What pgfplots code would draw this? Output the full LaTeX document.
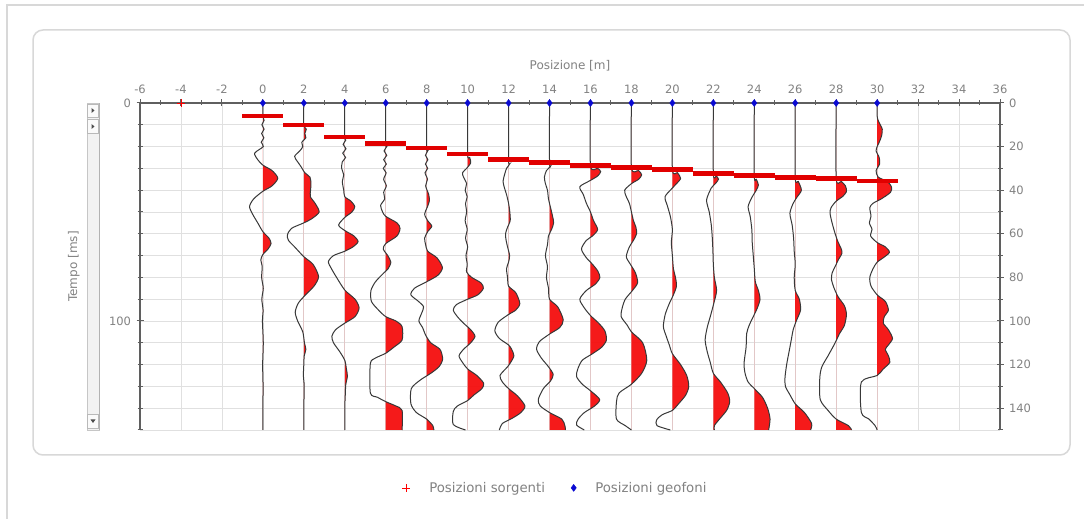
\documentclass[border=0pt]{standalone}
\usepackage{pgfplots}
\usepackage{pgfplotstable}
\pgfplotsset{compat=1.18}
\usepackage{fontspec}
\setmainfont{DejaVu Sans}

\definecolor{axisgray}{RGB}{95,95,95}
\definecolor{labelgray}{RGB}{130,130,130}
\definecolor{gridgray}{RGB}{224,224,224}
\definecolor{wigred}{RGB}{245,12,12}
\definecolor{pickred}{RGB}{225,0,0}
\definecolor{framegray}{RGB}{216,216,216}
\definecolor{geoblue}{RGB}{10,10,210}

% ---------- seismic traces: time [ms], amplitude [m of offset] ----------
\pgfplotstableread{
t a
0 0
6 0
8 0.06
10 -0.05
12 0.06
14 -0.06
16 0.05
18 -0.08
20 0.02
23 -0.4
26 -0.25
28.5 0
31 0.45
34.5 0.73
38 0.45
40.5 0
44 -0.45
47.5 -0.65
51 -0.5
55 -0.25
59 0
62 0.3
64.5 0.4
67 0.25
69.5 0
72 -0.1
75 -0.03
80 -0.06
85 0.02
90 -0.05
95 0.01
100 -0.02
110 0.02
120 -0.01
130 0.01
140 0
150 0
}\trA
\pgfplotstableread{
t a
0 0
10 0
12 0.12
14 0.05
16 0.1
18 -0.1
20 -0.05
22 -0.2
24.5 -0.45
27 -0.3
29 -0.15
32 0.05
34 0.3
37 0.35
40 0.33
43 0.32
46 0.55
50 0.75
53 0.4
55 0
57.5 -0.6
60.5 -0.8
63 -0.75
66 -0.45
70.5 0
74 0.45
79.6 0.72
84 0.5
88.8 0
92 -0.28
96 -0.42
100 -0.3
105 -0.05
110 0.03
113 0.1
116 0.02
120 0
125 -0.02
130 0.02
140 0
150 0
}\trB
\pgfplotstableread{
t a
0 0
15.5 0
17 0.05
19 -0.08
21 0.06
23 -0.1
25 0.04
27 -0.12
30 -0.15
33 -0.05
36 -0.12
40 -0.05
43 0
45 0.3
47.6 0.49
50 0.35
52.5 0
56 -0.3
58.5 0
61 0.45
63.6 0.65
66 0.4
68 0
70 -0.55
72.8 -0.8
76 -0.65
80 -0.4
85.8 0
90 0.5
94 0.7
98 0.5
101 0
104 -0.45
107 -0.63
110 -0.55
114 -0.25
118 0
122 0.08
125.5 0.13
129 0.05
135 0.02
140 0
150 0.01
}\trC
\pgfplotstableread{
t a
0 0
18.6 0
20 0.05
22 -0.08
24 0.05
26 -0.1
28 0.03
30 -0.12
32 0.02
35 -0.1
38 0.03
41 -0.1
44 -0.05
47 -0.25
50 -0.15
52 0
55 0.55
57.5 0.7
61 0.55
64.5 0
67 -0.12
70 0.1
73 0.25
76 0.12
78 -0.1
82 -0.5
86 -0.72
91 -0.7
95 -0.35
98 0
100 0.5
102.6 0.8
108.7 0.8
112 0.4
114.8 0
117 -0.5
119.5 -0.75
133 -0.75
135 -0.4
137 0
139 0.5
141 0.8
150 0.8
}\trD
\pgfplotstableread{
t a
0 0
20.6 0
22 0.05
24 -0.06
26 0.06
28 -0.06
30 0.05
32 -0.08
35 0.04
38 -0.05
42 0.1
45 0.13
48 0.02
51 -0.1
54 0.05
56.5 0.25
59 0.05
62 -0.1
65 -0.05
68 0.05
71 0.5
75.5 0.77
79 0.55
82 0
85 -0.6
88 -0.77
91 -0.4
93.5 -0.15
96.5 -0.25
100 -0.38
103 -0.2
106.5 -0.05
110 0.2
113 0.65
117.5 0.78
121 0.6
124 0.2
127 -0.3
131 -0.75
138 -0.77
142 -0.5
145 0
148 0.3
150 0.35
}\trE
\pgfplotstableread{
t a
0 0
23.5 0
25 0.1
27.5 0.15
30 -0.05
32 -0.25
34 -0.2
37 -0.05
40 -0.12
43 -0.02
46 -0.1
50 -0.05
54 -0.12
58 -0.02
62 -0.1
66 0
70 -0.08
74 -0.02
77.5 -0.05
80 0.2
82.5 0.65
85 0.77
88 0.5
90 0
92.5 -0.55
95 -0.7
98 -0.5
101 -0.2
104 0.15
107 0.36
110 0.15
113 -0.2
116 -0.42
119 -0.25
122 0
125 0.45
128.5 0.78
131 0.7
134 0.3
136.5 0
139 -0.5
141.5 -0.7
147.5 -0.7
150 -0.1
}\trF
\pgfplotstableread{
t a
0 0
26 0
28 0.05
30 -0.1
33 -0.2
36 -0.27
39 -0.2
42 -0.1
46 0
50 0.06
54 0.08
57 -0.05
60 -0.15
63 -0.12
66 -0.05
70 0.05
73 0
76 -0.1
80 -0.05
84 0
87 0.35
92 0.55
95 0.35
97 0
100.5 -0.5
104.5 -0.67
108 -0.45
111 0
113 0.15
116 0.26
119 0.1
121 -0.05
125 -0.42
128 -0.3
131 0
134.5 0.45
139 0.8
142 0.6
144.5 0.2
147 -0.3
150 -0.45
}\trG
\pgfplotstableread{
t a
0 0
27.2 0
29 0.05
31 -0.15
34 -0.25
37 -0.2
40 -0.1
44 -0.05
48 0.05
52 0.15
55 0.2
58 0.1
61 -0.05
65 -0.1
70 -0.2
75 -0.1
80 -0.15
85 -0.05
90 0
93.5 0.4
99.5 0.67
103 0.5
106 0
109.5 -0.5
113 -0.63
117 -0.4
121 -0.05
124.5 0.18
127.5 0.05
131 -0.3
136 -0.55
139 -0.45
142 0
145 0.6
148 0.75
150 0.78
}\trH
\pgfplotstableread{
t a
0 0
28.7 0
30 0.35
31.5 0.5
33.5 0.35
35.5 0
38.4 -0.52
42 -0.35
46 -0.2
50 0
54 0.15
58 0.35
61 0.1
63 -0.2
67 -0.44
71 -0.2
74 0.1
77 0.35
80 0.46
83 0.25
86 -0.2
90 -0.52
94 -0.3
97.5 0
101 0.4
104.5 0.7
108.7 0.78
112 0.55
115 0.1
118 -0.4
122 -0.62
125.5 -0.68
129 -0.4
132 0
136 0.45
139 0.2
142 -0.3
145 -0.6
147.7 -0.68
150 -0.3
}\trI
\pgfplotstableread{
t a
0 0
29.6 0
31 0.35
33 0.5
35 0.35
37 0
40 -0.33
43 -0.25
46 -0.1
50 0
54 0.1
57 0.22
60 0.25
63 0.1
66 -0.1
70.5 -0.25
74 -0.05
78 0.2
82.5 0.3
86 0.05
90 -0.3
94 -0.45
98 -0.5
102 -0.2
105 0
110 0.55
118 0.75
124 0.5
129 0
133 -0.6
137 -0.73
145 -0.73
148 -0.3
150 0
}\trJ
\pgfplotstableread{
t a
0 0
30.4 0
32 0.25
34.6 0.4
37 0.2
39 0
43 -0.36
47 -0.25
52 -0.1
58 0
64 -0.05
70 0
76 0.05
80 0.15
84 0.2
88 0.05
92 -0.15
97 -0.35
102.6 -0.44
107 -0.3
111 -0.15
115 0
120 0.4
125 0.7
130 0.8
134 0.65
138 0.3
141 0
143 -0.5
145.4 -0.77
148 -0.75
150 -0.1
}\trK
\pgfplotstableread{
t a
0 0
32.4 0
33.5 0.15
35 0.25
37 0.1
39 -0.1
44.5 -0.33
50 -0.2
56 -0.1
62 -0.05
68 -0.02
74 0
80 0.05
86 0.16
92 0.02
98 -0.15
103 -0.3
108.7 -0.4
114 -0.3
119 -0.15
124 0
128 0.35
133 0.7
137 0.8
141 0.65
145 0.3
148 0.05
150 0.05
}\trL
\pgfplotstableread{
t a
0 0
33.3 0
35 0.1
37.6 0.2
40 0.1
43 -0.1
47.5 -0.3
52 -0.2
58 -0.12
64 -0.1
70 -0.05
76 0
82 0.05
86 0.2
90 0.28
94 0.15
98 -0.05
102 -0.25
105.7 -0.37
112 -0.4
119.4 -0.5
124 -0.45
128 -0.3
131 0
135 0.4
140 0.65
145 0.77
150 0.7
}\trM
\pgfplotstableread{
t a
0 0
34.2 0
36 0.15
40 0.3
43 0.1
46 -0.1
50.6 -0.26
56 -0.15
62 -0.08
68 -0.05
74 0
80 -0.05
86 0
90 0.2
95 0.26
100 0.05
104 -0.1
109 -0.2
114 -0.3
120 -0.42
126 -0.5
130 -0.48
134 -0.25
138 0
142 0.45
147 0.8
150 0.75
}\trN
\pgfplotstableread{
t a
0 0
34.6 0
36 0.25
38 0.45
40.7 0.5
43 0.3
45 0
48 -0.25
50.6 -0.3
55 -0.2
60 -0.05
64 0.1
67 0.25
69 0.28
72 0.1
75 -0.05
78 -0.2
81 -0.23
85 -0.1
89 0.1
93 0.4
97 0.5
102 0.4
106 0.15
110 -0.05
116 -0.4
121 -0.7
126 -0.8
136 -0.78
141 -0.4
145 0
148 0.6
150 0.75
}\trO
\pgfplotstableread{
t a
0 0
6 0
8 0.05
10 0.15
12 0.25
15 0.22
18 0.1
20 0
22 -0.05
25 0.1
28 0.12
31 -0.05
34 0.05
36 0.5
38.5 0.7
41 0.65
44 0.2
46 -0.2
48 -0.36
52 -0.3
55 -0.38
58 -0.25
61 -0.32
64 0
66 0.4
68.5 0.6
71 0.3
73 0
76 -0.2
80 -0.36
84 -0.3
88 0
91 0.4
95 0.55
98 0.35
101 0.3
104 0.55
108 0.75
111 0.55
113 0.4
116 0.55
119 0.62
122 0.3
125 0
128 -0.77
142 -0.77
145 -0.4
148 -0.1
150 0
}\trP

% first-break picks: one segment per geophone
\pgfplotstableread{
x t
-1 6
1 6
nan nan
1 10
3 10
nan nan
3 15.5
5 15.5
nan nan
5 18.6
7 18.6
nan nan
7 20.6
9 20.6
nan nan
9 23.5
11 23.5
nan nan
11 26
13 26
nan nan
13 27.2
15 27.2
nan nan
15 28.7
17 28.7
nan nan
17 29.6
19 29.6
nan nan
19 30.4
21 30.4
nan nan
21 32.4
23 32.4
nan nan
23 33.3
25 33.3
nan nan
25 34.2
27 34.2
nan nan
27 34.6
29 34.6
nan nan
29 35.8
31 35.8
}\picks

% time grows downwards: it is plotted as -t and labelled as |t|
% wiggle trace with variable-area fill of the positive half
% #1 table, #2 position, #3 position+2
\newcommand{\wiggle}[3]{%
  \begin{scope}
    \clip (axis cs:#2,-152) rectangle (axis cs:#3,2);
    \addplot[draw=none, fill=wigred, fill opacity=0.94, smooth, tension=0.45, forget plot]
      table[x expr=\thisrow{a}+#2, y expr=-\thisrow{t}] {#1} -- (axis cs:#2,-150) -- cycle;
  \end{scope}
  \addplot[draw=black!78, line width=1pt, smooth, tension=0.45, forget plot]
    table[x expr=\thisrow{a}+#2, y expr=-\thisrow{t}] {#1};
}

\pgfplotsset{
  seisframe/.style={
    at={(140pt,89pt)}, anchor=south west,
    scale only axis, width=860pt, height=327pt,
    xmin=-6, xmax=36, ymin=-150, ymax=0,
    axis line style={axisgray, line width=1.3pt, -},
    tick align=center,
    major tick length=7pt, minor tick length=5pt,
    every tick/.style={axisgray, line width=1pt},
    /pgf/number format/assume math mode=true,
    tick label style={font=\fontsize{11.5}{13}\selectfont, text=labelgray},
    yticklabel={\pgfmathparse{abs(\tick)}\pgfmathprintnumber{\pgfmathresult}},
  },
}

\begin{document}
\begin{tikzpicture}
\begin{scope}[x=1pt,y=1pt]
\useasboundingbox (0,0) rectangle (1084,519);
\fill[white] (0,0) rectangle (1084,519);
% page edges and panel frame
\draw[framegray, line width=1.2pt] (7,0) -- (7,514) -- (1084,514);
\draw[framegray, line width=1.5pt, rounded corners=10pt] (33,64) rectangle (1070,489);

% vertical scroll bar of the time axis
\fill[gray!10] (87,89) rectangle (99,416);
\draw[gray!45, line width=0.8pt] (87,89) rectangle (99,416);
\draw[gray!60, line width=1pt] (99,89) -- (99,416);
\foreach \yb/\yt in {402/415, 386/400, 91/105}{
  \fill[gray!4] (87.5,\yb) rectangle (98.5,\yt);
  \draw[gray!55, line width=0.7pt] (87.5,\yb) rectangle (98.5,\yt);
}
\fill[black!70] (91.5,406) -- (94.5,408.5) -- (91.5,411) -- cycle;
\fill[black!70] (91.5,390) -- (94.5,392.5) -- (91.5,395) -- cycle;
\fill[black!70] (90.5,99.5) -- (95.5,99.5) -- (93,96) -- cycle;
\end{scope}

% traces, grid, left and top scales
\begin{axis}[
  seisframe,
  clip=false,
  axis x line*=top, axis y line*=left,
  xtick={-6,-4,...,36}, minor xtick={-5,-3,...,35},
  ytick={-100,0}, minor ytick={-150,-140,...,-10},
  xmajorgrids, ymajorgrids, yminorgrids,
  major grid style={gridgray, line width=0.7pt},
  minor grid style={gridgray, line width=0.7pt},
  xticklabel style={yshift=2pt},
  yticklabel style={xshift=-2pt},
  xlabel={Posizione [m]},
  ylabel={Tempo [ms]},
  every axis x label/.style={at={(axis description cs:0.5,1.113)}, anchor=center,
    font=\fontsize{12}{14}\selectfont, text=labelgray},
  every axis y label/.style={at={(axis description cs:-0.077,0.5)}, anchor=center,
    rotate=90, font=\fontsize{12}{14}\selectfont, text=labelgray},
]
\wiggle{\trA}{0}{2}
\wiggle{\trB}{2}{4}
\wiggle{\trC}{4}{6}
\wiggle{\trD}{6}{8}
\wiggle{\trE}{8}{10}
\wiggle{\trF}{10}{12}
\wiggle{\trG}{12}{14}
\wiggle{\trH}{14}{16}
\wiggle{\trI}{16}{18}
\wiggle{\trJ}{18}{20}
\wiggle{\trK}{20}{22}
\wiggle{\trL}{22}{24}
\wiggle{\trM}{24}{26}
\wiggle{\trN}{26}{28}
\wiggle{\trO}{28}{30}
\wiggle{\trP}{30}{32}
\end{axis}

% right-hand time scale
\begin{axis}[
  seisframe,
  hide x axis,
  axis y line*=right,
  ytick={-140,-120,...,0}, minor ytick={-150,-130,...,-10},
  yticklabel style={xshift=2pt},
]
\addplot[draw=none, forget plot] coordinates {(0,0) (1,-1)};
\end{axis}

% first-break picks, source and geophone positions
\begin{axis}[
  seisframe,
  hide axis,
  clip=false,
  legend columns=2,
  legend style={at={(0.483,-0.177)}, anchor=center, draw=none, fill=none,
    font=\fontsize{13.3}{15}\selectfont, text=labelgray,
    /tikz/every odd column/.append style={column sep=17pt},
    /tikz/every even column/.append style={column sep=24pt}},
  legend cell align=left,
]
\addplot[pickred, line width=4.5pt, line cap=butt, unbounded coords=jump, forget plot]
  table[x=x, y expr=-\thisrow{t}] {\picks};

\addplot[only marks, mark=+, mark size=4pt, red, mark options={line width=0.7pt}]
  coordinates {(-4,0)};
\addlegendentry{Posizioni sorgenti}
\addplot[only marks, mark=diamond*, mark size=3.5pt, geoblue]
  coordinates {(0,0) (2,0) (4,0) (6,0) (8,0) (10,0) (12,0) (14,0)
               (16,0) (18,0) (20,0) (22,0) (24,0) (26,0) (28,0) (30,0)};
\addlegendentry{Posizioni geofoni}
\end{axis}
\end{tikzpicture}
\end{document}
